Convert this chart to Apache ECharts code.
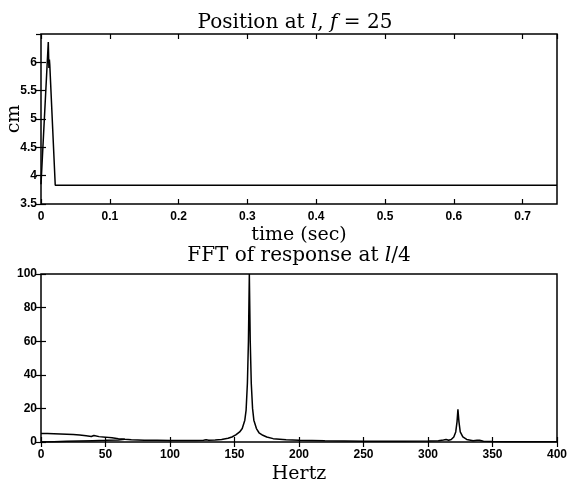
<!DOCTYPE html>
<html>
<head>
<meta charset="utf-8">
<script src="https://cdn.jsdelivr.net/npm/echarts@6/dist/echarts.min.js"></script>
<style>html,body{margin:0;padding:0;background:#fff;}#c{width:570px;height:490px;}</style>
</head>
<body>
<div id="c"></div>
<script>
// Top panel: position vs time
const timeSec = [0, 0.0106, 0.0115, 0.0122, 0.0128, 0.0207, 0.75];
const positionCm = [3.85, 6.36, 5.9, 6.05, 5.95, 3.83, 3.83];
const timeTicks = [0, 0.1, 0.2, 0.3, 0.4, 0.5, 0.6, 0.7];
const cmTicks = [3.5, 4, 4.5, 5, 5.5, 6];

// Bottom panel: FFT magnitude vs frequency
const freqHz = [0, 5, 10, 15, 20, 25, 30, 35, 39, 40, 41, 42, 45, 50, 55, 60, 65, 70, 80, 90, 100, 110, 120, 126, 128, 130, 135, 140, 145, 148, 151, 154, 156, 158, 159, 160, 160.8, 161.5, 162.2, 163, 164, 165, 167, 169, 172, 175, 180, 190, 200, 220, 250, 280, 300, 308, 312, 314, 316, 318, 320, 321.5, 322.5, 323.2, 324, 325, 327, 330, 335, 338, 339, 340, 343, 350, 360, 400];
const fftAmp = [5.0, 5.0, 4.9, 4.8, 4.6, 4.4, 4.1, 3.7, 3.3, 3.0, 3.9, 3.4, 3.2, 2.9, 2.5, 2.0, 1.6, 1.3, 1.1, 1.0, 0.9, 0.9, 0.9, 1.0, 1.3, 1.0, 1.2, 1.5, 2.2, 3.0, 4.2, 6.0, 8.0, 13, 19, 35, 60, 100, 60, 35, 20, 13, 8, 5.5, 4, 3, 2, 1.3, 1, 0.7, 0.5, 0.5, 0.6, 0.8, 1.2, 1.5, 1.0, 1.5, 3, 6, 12, 19.5, 12, 6, 3, 1.5, 0.8, 1.0, 2.0, 1.0, 0.5, 0.3, 0.2, 0.2];
const freqLowHz = [0, 10, 20, 30, 40, 50, 60, 65];
const fftLowAmp = [0, 0.2, 0.4, 0.6, 0.8, 1.0, 1.25, 1.6];
const hzTicks = [0, 50, 100, 150, 200, 250, 300, 350, 400];
const ampTicks = [0, 20, 40, 60, 80, 100];

const pairs = (xs, ys) => xs.map((x, i) => [x, ys[i]]);
const serif = 'DejaVu Serif';
const sans = 'Liberation Sans';
const lab = {show: true, color: '#000', fontFamily: sans, fontWeight: 'bold', fontSize: 12};
const tick = {show: true, inside: true, length: 5, lineStyle: {color: '#000', width: 1.2}};
const noLine = {show: false};
const noSplit = {show: false};

function mainX(gi, min, max, interval, name, gap, showMax) {
  return {type: 'value', gridIndex: gi, min, max, interval, position: 'bottom',
    axisLine: noLine, splitLine: noSplit, axisTick: tick,
    axisLabel: Object.assign({}, lab, {margin: 7, showMaxLabel: showMax}),
    name, nameLocation: 'middle', nameGap: gap,
    nameTextStyle: {fontFamily: serif, fontSize: 19, color: '#000'}};
}
function mirrorX(gi, min, max, interval) {
  return {type: 'value', gridIndex: gi, min, max, interval, position: 'top',
    axisLine: noLine, splitLine: noSplit, axisTick: tick, axisLabel: {show: false}};
}
function mainY(gi, min, max, interval, name, showMax) {
  return {type: 'value', gridIndex: gi, min, max, interval, position: 'left',
    axisLine: noLine, splitLine: noSplit, axisTick: tick,
    axisLabel: Object.assign({}, lab, {margin: 4, showMaxLabel: showMax}),
    name, nameLocation: 'middle', nameGap: 17, nameRotate: 90, nameMoveOverlap: false,
    nameTextStyle: {fontFamily: serif, fontSize: 19, color: '#000'}};
}
function mirrorY(gi, min, max, interval) {
  return {type: 'value', gridIndex: gi, min, max, interval, position: 'right',
    axisLine: noLine, splitLine: noSplit, axisTick: tick, axisLabel: {show: false}};
}

const chart = echarts.init(document.getElementById('c'), null, {renderer: 'canvas'});
const titleRich = {
  r: {fontFamily: serif, fontSize: 20, fontWeight: 'normal', color: '#000'},
  i: {fontFamily: serif, fontSize: 20, fontWeight: 'normal', fontStyle: 'italic', color: '#000'}
};
chart.setOption({
  animation: false,
  backgroundColor: '#fff',
  title: [
    {text: '{r|Position at }{i|l}{r|, }{i|f}{r| = 25}', left: 290, top: 8, textAlign: 'center',
     textStyle: {fontWeight: 'normal', rich: titleRich}},
    {text: '{r|FFT of response at }{i|l}{r|/4}', left: 294, top: 241, textAlign: 'center',
     textStyle: {fontWeight: 'normal', rich: titleRich}}
  ],
  grid: [
    {left: 41, top: 34, width: 516, height: 170, show: true, borderColor: '#000', borderWidth: 1.5, backgroundColor: 'transparent', containLabel: false, outerBoundsMode: 'none'},
    {left: 41, top: 274, width: 516, height: 168, show: true, borderColor: '#000', borderWidth: 1.5, backgroundColor: 'transparent', containLabel: false, outerBoundsMode: 'none'}
  ],
  xAxis: [
    mainX(0, 0, 0.75, 0.1, 'time (sec)', 22, false),
    mirrorX(0, 0, 0.75, 0.1),
    mainX(1, 0, 400, 50, 'Hertz', 23, true),
    mirrorX(1, 0, 400, 50)
  ],
  yAxis: [
    mainY(0, 3.5, 6.5, 0.5, 'cm', false),
    mirrorY(0, 3.5, 6.5, 0.5),
    mainY(1, 0, 100, 20, '', true),
    mirrorY(1, 0, 100, 20)
  ],
  series: [
    {type: 'line', xAxisIndex: 0, yAxisIndex: 0, data: pairs(timeSec, positionCm), showSymbol: false,
     lineStyle: {color: '#000', width: 1.5}},
    {type: 'line', xAxisIndex: 2, yAxisIndex: 2, data: pairs(freqHz, fftAmp), showSymbol: false,
     lineStyle: {color: '#000', width: 1.5}},
    {type: 'line', xAxisIndex: 2, yAxisIndex: 2, data: pairs(freqLowHz, fftLowAmp), showSymbol: false,
     lineStyle: {color: '#000', width: 1.5}}
  ]
});
</script>
</body>
</html>
